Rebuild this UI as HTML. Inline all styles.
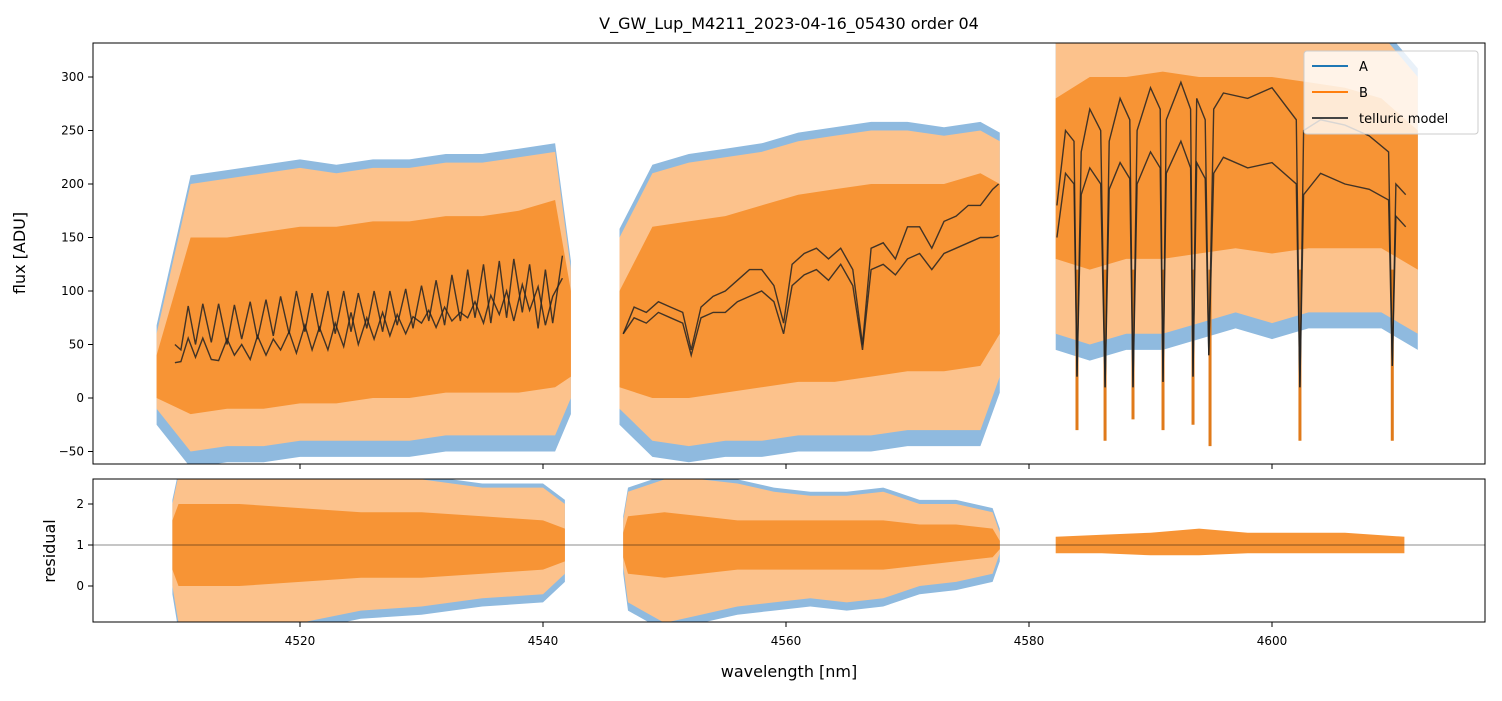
<!DOCTYPE html>
<html><head><meta charset="utf-8"><style>
body{margin:0;background:#fff;font-family:"Liberation Sans","DejaVu Sans",sans-serif}
svg text{font-family:"DejaVu Sans","Liberation Sans",sans-serif}
</style></head><body>
<svg id="c" width="1502" height="696" xmlns="http://www.w3.org/2000/svg">
<defs>
<clipPath id="ct"><rect x="93" y="43" width="1392" height="421"/></clipPath>
<clipPath id="cb"><rect x="93" y="479" width="1392" height="143"/></clipPath>
</defs>
<rect width="1502" height="696" fill="#fff"/>
<text x="789" y="29" font-size="16" text-anchor="middle">V_GW_Lup_M4211_2023-04-16_05430  order 04</text>
<g id="gtop" clip-path="url(#ct)"></g>
<g id="gbot" clip-path="url(#cb)"></g>
<rect x="93" y="43" width="1392" height="421" fill="none" stroke="#000" stroke-width="1"/>
<rect x="93" y="479" width="1392" height="143" fill="none" stroke="#000" stroke-width="1"/>
<g id="axes"></g>
<text x="25" y="253" font-size="16" text-anchor="middle" transform="rotate(-90 25 253)">flux [ADU]</text>
<text x="55" y="551" font-size="16" text-anchor="middle" transform="rotate(-90 55 551)">residual</text>
<text x="789" y="677" font-size="16" text-anchor="middle">wavelength [nm]</text>
<g>
<rect x="1304" y="51" width="174" height="83" rx="3" fill="#fff" fill-opacity="0.8" stroke="#ccc"/>
<line x1="1312" y1="66" x2="1348" y2="66" stroke="#1f77b4" stroke-width="2"/>
<text x="1359" y="71" font-size="13">A</text>
<line x1="1312" y1="92" x2="1348" y2="92" stroke="#ff7f0e" stroke-width="2"/>
<text x="1359" y="97" font-size="13">B</text>
<line x1="1312" y1="118" x2="1348" y2="118" stroke="#444" stroke-width="2"/>
<text x="1359" y="123" font-size="13">telluric model</text>
</g>
</svg>
<script>
// ---- data ----
const s1wl=[4508.2,4511,4514,4517,4520,4523,4526,4529,4532,4535,4538,4541,4542.3];
const s1Bhi=[60,200,205,210,215,210,215,215,220,220,225,230,120];
const s1Blo=[-10,-50,-45,-45,-40,-40,-40,-40,-35,-35,-35,-35,0];
const s1Chi=[40,150,150,155,160,160,165,165,170,170,175,185,100];
const s1Clo=[0,-15,-10,-10,-5,-5,0,0,5,5,5,10,20];
const s2wl=[4546.3,4549,4552,4555,4558,4561,4564,4567,4570,4573,4576,4577.6];
const s2Bhi=[150,210,220,225,230,240,245,250,250,245,250,240];
const s2Blo=[-10,-40,-45,-40,-40,-35,-35,-35,-30,-30,-30,20];
const s2Chi=[100,160,165,170,180,190,195,200,200,200,210,200];
const s2Clo=[10,0,0,5,10,15,15,20,25,25,30,60];
const s3wl=[4582.2,4585,4588,4591,4594,4597,4600,4603,4606,4609,4612];
const s3Bhi=[340,340,340,340,340,340,340,340,340,340,300];
const s3Blo=[60,50,60,60,70,80,70,80,80,80,60];
const s3Chi=[280,300,300,305,300,300,300,295,290,280,250];
const s3Clo=[130,120,130,130,135,140,135,140,140,140,120];
const dipWl=[4583.95,4586.26,4588.56,4591.03,4593.5,4594.9,4602.3,4609.9];
const dipVal=[-30,-40,-20,-30,-25,-45,-40,-40];
const m1wl=[4509.7,4510.2,4510.8,4511.4,4512.0,4512.7,4513.3,4514.0,4514.6,4515.2,4515.9,4516.5,4517.2,4517.8,4518.4,4519.1,4519.7,4520.4,4521.0,4521.6,4522.3,4522.9,4523.6,4524.2,4524.8,4525.5,4526.1,4526.8,4527.4,4528.0,4528.7,4529.3,4530.0,4530.6,4531.2,4531.9,4532.5,4533.2,4533.8,4534.4,4535.1,4535.7,4536.4,4537.0,4537.6,4538.3,4538.9,4539.6,4540.2,4540.8,4541.6];
const m1up=[50,45,86,50,88,52,88,50,87,55,90,55,92,58,95,60,100,62,98,62,100,60,100,62,98,65,100,62,100,68,102,65,105,72,110,68,115,72,120,75,125,70,128,75,130,80,125,65,120,70,133];
const m1lo=[33,34,56,38,56,36,35,55,40,50,36,58,40,55,45,62,42,68,45,66,45,70,48,80,50,75,55,80,58,78,60,76,70,82,66,85,72,80,75,90,70,96,78,100,72,106,82,104,68,95,112];
const m2wl=[4546.6,4547.5,4548.5,4549.5,4550.5,4551.5,4552.2,4553,4554,4555,4556,4557,4558,4559,4559.8,4560.5,4561.5,4562.5,4563.5,4564.5,4565.5,4566.3,4567,4568,4569,4570,4571,4572,4573,4574,4575,4576,4577,4577.5];
const m2up=[60,85,80,90,85,80,45,85,95,100,110,120,120,105,70,125,135,140,130,140,120,50,140,145,130,160,160,140,165,170,180,180,195,200];
const m2lo=[60,75,70,80,75,70,40,75,80,80,90,95,100,90,60,105,115,120,110,125,105,45,120,125,115,130,135,120,135,140,145,150,150,152];
const m3wl=[4582.3,4583,4583.7,4583.95,4584.3,4585,4585.9,4586.26,4586.6,4587.5,4588.3,4588.56,4588.9,4590,4590.8,4591.03,4591.3,4592.5,4593.3,4593.5,4593.8,4594.5,4594.8,4595.2,4596,4598,4600,4602,4602.3,4602.6,4604,4606,4608,4609.6,4609.9,4610.2,4611];
const m3up=[180,250,240,20,230,270,250,10,240,280,260,10,250,290,270,15,260,295,270,20,280,260,40,270,285,280,290,260,10,250,260,255,245,230,30,200,190];
const m3lo=[150,210,200,20,190,215,200,10,195,220,205,10,200,230,215,15,210,240,215,20,220,205,40,210,225,215,220,200,10,190,210,200,195,185,30,170,160];
const r1wl=[4509.5,4510,4515,4520,4525,4530,4535,4540,4541.8];
const r1hi=[2.0,2.7,2.7,2.7,2.6,2.6,2.4,2.4,2.0];
const r1lo=[0,-0.9,-0.9,-0.9,-0.6,-0.5,-0.3,-0.2,0.3];
const r1chi=[1.6,2.0,2.0,1.9,1.8,1.8,1.7,1.6,1.4];
const r1clo=[0.4,0,0,0.1,0.2,0.2,0.3,0.4,0.6];
const r2wl=[4546.6,4547,4550,4553,4556,4559,4562,4565,4568,4571,4574,4577,4577.6];
const r2hi=[1.6,2.3,2.6,2.6,2.5,2.3,2.2,2.2,2.3,2.0,2.0,1.8,1.3];
const r2lo=[0.5,-0.4,-0.9,-0.7,-0.5,-0.4,-0.3,-0.4,-0.3,0,0.1,0.3,0.8];
const r2chi=[1.3,1.7,1.8,1.7,1.6,1.6,1.6,1.6,1.6,1.5,1.5,1.4,1.1];
const r2clo=[0.7,0.3,0.2,0.3,0.4,0.4,0.4,0.4,0.4,0.5,0.6,0.7,0.9];
const r3wl=[4582.2,4586,4590,4594,4598,4602,4606,4610.9];
const r3hi=[1.2,1.25,1.3,1.4,1.3,1.3,1.3,1.2];
const r3lo=[0.8,0.8,0.75,0.75,0.8,0.8,0.8,0.8];
const xTicks=[4520,4540,4560,4580,4600];
const yTopTicks=[-50,0,50,100,150,200,250,300];
const yBotTicks=[0,1,2];
// ---- scales ----
const X=w=>300+(w-4520)*12.15;
const YT=v=>398-v*1.07;
const YB=v=>586-v*41;
const NS='http://www.w3.org/2000/svg';
function mk(tag,attrs,parent){const e=document.createElementNS(NS,tag);for(const k in attrs)e.setAttribute(k,attrs[k]);parent.appendChild(e);return e;}
function band(wl,hi,lo,Y,fill,op,parent,name){
  let d='M'+wl.map((w,i)=>X(w).toFixed(1)+','+Y(hi[i]).toFixed(1)).join('L');
  for(let i=wl.length-1;i>=0;i--)d+='L'+X(wl[i]).toFixed(1)+','+Y(lo[i]).toFixed(1);
  const e=mk('path',{d:d+'Z',fill:fill,'fill-opacity':op},parent);
  
  
}
function line(wl,v,Y,parent,name){
  const e=mk('polyline',{points:wl.map((w,i)=>X(w).toFixed(1)+','+Y(v[i]).toFixed(1)).join(' '),fill:'none',stroke:'#222','stroke-opacity':0.85,'stroke-width':1.4},parent);
  
  
}
const gTop=document.getElementById('gtop'),gBot=document.getElementById('gbot'),gAx=document.getElementById('axes');
const segs=[[s1wl,s1Bhi,s1Blo,s1Chi,s1Clo],[s2wl,s2Bhi,s2Blo,s2Chi,s2Clo],[s3wl,s3Bhi,s3Blo,s3Chi,s3Clo]];
segs.forEach((s,k)=>{
  band(s[0],s[1].map(v=>v+8),s[2].map(v=>v-15),YT,'#8fbadf',1,gTop,'series-a-seg'+(k+1));
  band(s[0],s[1],s[2],YT,'#fcc28c',1,gTop,'series-b-seg'+(k+1));
  band(s[0],s[3],s[4],YT,'#f79435',1,gTop,'series-b-core-seg'+(k+1));
});
dipWl.forEach((w,i)=>{
  const e=mk('line',{x1:X(w),x2:X(w),y1:YT(120),y2:YT(dipVal[i]),stroke:'#e07a1a','stroke-width':3},gTop);
  
  
});
line(m1wl,m1up,YT,gTop,'telluric-model-1a');line(m1wl,m1lo,YT,gTop,'telluric-model-1b');
line(m2wl,m2up,YT,gTop,'telluric-model-2a');line(m2wl,m2lo,YT,gTop,'telluric-model-2b');
line(m3wl,m3up,YT,gTop,'telluric-model-3a');line(m3wl,m3lo,YT,gTop,'telluric-model-3b');
[[r1wl,r1hi,r1lo,r1chi,r1clo],[r2wl,r2hi,r2lo,r2chi,r2clo]].forEach((r,k)=>{
  band(r[0],r[1].map(v=>v+0.1),r[2].map(v=>v-0.2),YB,'#8fbadf',1,gBot,'residual-a-seg'+(k+1));
  band(r[0],r[1],r[2],YB,'#fcc28c',1,gBot,'residual-b-seg'+(k+1));
  band(r[0],r[3],r[4],YB,'#f79435',1,gBot,'residual-b-core-seg'+(k+1));
});
band(r3wl,r3hi,r3lo,YB,'#f79435',1,gBot,'residual-b-seg3');
const unityLine=mk('line',{x1:93,x2:1485,y1:YB(1),y2:YB(1),stroke:'#000','stroke-opacity':0.6,'stroke-width':0.8},gBot);


xTicks.forEach(t=>{
  const x=X(t);
  const a=mk('line',{x1:x,x2:x,y1:464,y2:469,stroke:'#000'},gAx);
  
  
  const b=mk('line',{x1:x,x2:x,y1:622,y2:627,stroke:'#000'},gAx);
  
  
  const l=mk('text',{x:x,y:645,'font-size':12,'text-anchor':'middle'},gAx);l.textContent=t;
  
  
});
yTopTicks.forEach(t=>{
  const y=YT(t);
  const a=mk('line',{x1:88,x2:93,y1:y,y2:y,stroke:'#000'},gAx);
  
  
  const l=mk('text',{x:84,y:y+4,'font-size':12,'text-anchor':'end'},gAx);l.textContent=t<0?'\u2212'+(-t):t;
  
  
});
yBotTicks.forEach(t=>{
  const y=YB(t);
  const a=mk('line',{x1:88,x2:93,y1:y,y2:y,stroke:'#000'},gAx);
  
  
  const l=mk('text',{x:84,y:y+4,'font-size':12,'text-anchor':'end'},gAx);l.textContent=t;
  
  
});
</script>
</body></html>
